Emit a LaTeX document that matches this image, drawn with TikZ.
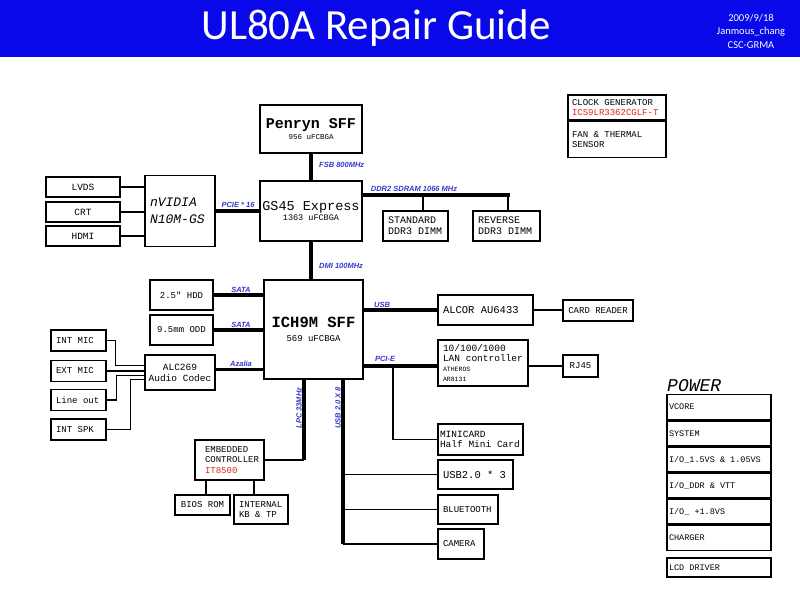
\documentclass[tikz,border=0pt]{standalone}
\usepackage{fontspec}
\setmainfont{Liberation Serif}
\newfontfamily\titlefont{Carlito}
\newfontfamily\boxfont{Liberation Mono}
\newfontfamily\lblfont{Liberation Sans}
\usetikzlibrary{positioning}
\definecolor{hdrblue}{RGB}{8,8,232}
\definecolor{lblblue}{RGB}{55,55,205}
\definecolor{chipred}{RGB}{220,35,35}
\newcommand{\mono}[2]{\boxfont\fontsize{#1}{#2}\selectfont\spaceskip=0.6em\xspaceskip=0.6em\relax}
\tikzset{%
  % Specifications for style of blocks and links:
        box/.style = {draw=black, line width=1.5pt, inner sep=0pt,
                      align=center, font={\mono{9}{10.5}}},
       lbox/.style = {box, align=flush left, inner xsep=5pt, text width=#1pt,
                      execute at begin node={\spaceskip=0.6em\xspaceskip=0.6em\relax}},
    boxsize/.style 2 args = {minimum width=#1pt, minimum height=#2pt},
       wire/.style = {line width=1.3pt},
        bus/.style = {line width=3.3pt},
   buslabel/.style = {text=lblblue, inner sep=0pt,
                      font={\lblfont\bfseries\itshape\fontsize{7.5}{8}\selectfont}},
}
\begin{document}
\begin{tikzpicture}[x=1pt, y=-1pt]
  \useasboundingbox (0,0) rectangle (800,600);
  % Header
  \fill[hdrblue] (0,0) rectangle (800,57);
  \node[text=white, font={\titlefont\fontsize{43}{43}\selectfont}] (title) at (376,28) {UL80A Repair Guide};
  \node[text=white, align=center, font={\titlefont\fontsize{10.5}{13.5}\selectfont}] (author) at (751,31)
     {2009/9/18\\Janmous\_chang\\CSC-GRMA};
  % CPU, north bridge and graphics
  \node[box, boxsize={102}{48}] (penryn) at (311,129)
     {{\mono{15}{16}\bfseries Penryn SFF}\\[1pt]{\mono{7.5}{8}956 uFCBGA}};
  \node[box, boxsize={102}{60}] (gs45) at (311,211)
     {{\mono{13.5}{15}GS45 Express}\\{\mono{8.5}{9}1363 uFCBGA}};
  \node[lbox=60, boxsize={70}{71}, font={\mono{13}{17}\itshape}] (nvidia) at (180,211) {nVIDIA\\N10M-GS};
  \node[box, boxsize={74}{20}, font={\mono{9.5}{10}}] (lvds) at (83,187) {LVDS};
  \node[box, boxsize={74}{20}, font={\mono{9.5}{10}}] (crt)  at (83,212) {CRT};
  \node[box, boxsize={74}{20}, font={\mono{9.5}{10}}] (hdmi) at (83,236) {HDMI};
  \node[lbox=55, boxsize={65}{30}, font={\mono{10}{11}}] (std) at (415.5,226) {STANDARD\\DDR3 DIMM};
  \node[lbox=57, boxsize={67}{30}, font={\mono{10}{11}}] (rev) at (506.5,226) {REVERSE\\DDR3 DIMM};
  % South bridge and devices
  \node[box, boxsize={99}{99}] (ich) at (313.5,329.5)
     {{\mono{15.5}{17}\bfseries ICH9M SFF}\\[3pt]{\mono{9}{10}569 uFCBGA}};
  \node[box, boxsize={63}{30}] (hdd) at (181.5,295) {2.5" HDD};
  \node[box, boxsize={63}{30}] (odd) at (181.5,330) {9.5mm ODD};
  \node[box, boxsize={70}{35}, font={\mono{9.5}{11}}] (alc) at (180,372.5) {ALC269\\Audio Codec};
  \node[lbox=45, boxsize={55}{21}] (intmic)  at (78.5,340.5) {INT MIC};
  \node[lbox=45, boxsize={55}{21}] (extmic)  at (78.5,371)   {EXT MIC};
  \node[lbox=45, boxsize={55}{21}] (lineout) at (78.5,400)   {Line out};
  \node[lbox=45, boxsize={55}{21}] (intspk)  at (78.5,429.5) {INT SPK};
  \node[lbox=85, boxsize={95}{30}, font={\mono{10.5}{11}}] (alcor) at (485.5,310) {ALCOR AU6433};
  \node[box, boxsize={70}{21}] (card) at (598,310.5) {CARD READER};
  \node[lbox=80, boxsize={90}{46}, font={\mono{9.5}{10}}] (lan) at (483,363)
     {10/100/1000\\LAN controller\\{\mono{6.5}{9}ATHEROS}\\{\mono{6.5}{9}AR8131}};
  \node[box, boxsize={35}{22}] (rj45) at (580.5,366) {RJ45};
  \node[lbox=81, boxsize={85}{31}, inner xsep=2pt, font={\mono{9.5}{10.5}}] (minicard) at (480.5,439.5)
     {MINICARD\\\mbox{Half Mini Card}};
  \node[lbox=65, boxsize={75}{29}, font={\mono{10.5}{11}}] (usb3) at (475.5,474.5) {USB2.0 * 3};
  \node[lbox=50, boxsize={60}{29}] (bt)  at (468,509.5) {BLUETOOTH};
  \node[lbox=36, boxsize={46}{30}] (cam) at (461,544)   {CAMERA};
  \node[lbox=49, boxsize={69}{40}, inner xsep=10pt] (ec) at (229.5,460)
     {EMBEDDED\\CONTROLLER\\\textcolor{chipred}{IT8500}};
  \node[box, boxsize={55}{20}] (bios) at (202.5,505) {BIOS ROM};
  \node[lbox=44, boxsize={54}{29}] (kbtp) at (261,509.5) {INTERNAL\\KB \& TP};
  % Clock and power
  \node[lbox=90, boxsize={98}{25}, inner xsep=4pt] (clk) at (617,107.5)
     {CLOCK GENERATOR\\\textcolor{chipred}{ICS9LR3362CGLF-T}};
  \node[lbox=90, boxsize={98}{36}, inner xsep=4pt, below=0pt of clk] (fan) {FAN \& THERMAL\\SENSOR};
  \node[anchor=base west, inner sep=0pt, font={\mono{18}{18}\itshape}] (powerlbl) at (667,391) {POWER};
  \node[lbox=100, boxsize={104}{24.7}, inner xsep=2pt, font={\mono{8.5}{9}}] (vcore) at (719,407) {VCORE};
  \node[lbox=100, boxsize={104}{24.7}, inner xsep=2pt, font={\mono{8.5}{9}}, below=0pt of vcore] (system) {SYSTEM};
  \node[lbox=100, boxsize={104}{24.7}, inner xsep=2pt, font={\mono{8.5}{9}}, below=0pt of system] (iosv) {I/O\_1.5VS \& 1.05VS};
  \node[lbox=100, boxsize={104}{24.7}, inner xsep=2pt, font={\mono{8.5}{9}}, below=0pt of iosv] (ioddr) {I/O\_DDR \& VTT};
  \node[lbox=100, boxsize={104}{24.7}, inner xsep=2pt, font={\mono{8.5}{9}}, below=0pt of ioddr] (ioeight) {I/O\_ +1.8VS};
  \node[lbox=100, boxsize={104}{24.7}, inner xsep=2pt, font={\mono{8.5}{9}}, below=0pt of ioeight] (charger) {CHARGER};
  \node[lbox=100, boxsize={104}{19}, inner xsep=2pt, font={\mono{8.5}{9}}, below=6pt of charger] (lcd) {LCD DRIVER};
  % Links
  \draw[wire] (lvds.east) -- (lvds.east -| nvidia.west);
  \draw[wire] (crt.east)  -- (crt.east -| nvidia.west);
  \draw[wire] (hdmi.east) -- (hdmi.east -| nvidia.west);
  \draw[bus]  (nvidia.east) -- (nvidia.east -| gs45.west);
  \draw[bus]  (penryn.south) -- (gs45.north);
  \coordinate (ddrend) at (510,195);
  \coordinate (stdtap) at (423,195);
  \coordinate (revtap) at (508,195);
  \draw[bus]  (gs45.east |- ddrend) -- (ddrend);
  \draw[wire] (stdtap) -- (stdtap |- std.north);
  \draw[wire] (revtap) -- (revtap |- rev.north);
  \draw[bus]  (gs45.south) -- (gs45.south |- ich.north);
  \draw[bus]  (hdd.east) -- (hdd.east -| ich.west);
  \draw[bus]  (odd.east) -- (odd.east -| ich.west);
  \draw[bus]  ([yshift=3pt]alc.east) -- ([yshift=3pt]alc.east -| ich.west);
  \draw[wire] (intmic.east) -- ++(9,0) |- ([yshift=7pt]alc.west);
  \draw[wire] (extmic.east) -- (extmic.east -| alc.west);
  \draw[wire] (lineout.east) -- ++(10,0) |- ([yshift=-3pt]alc.west);
  \draw[wire] (intspk.east) -- ++(24,0) |- ([yshift=-7pt]alc.west);
  \draw[bus]  (ich.east |- alcor.west) -- (alcor.west);
  \draw[wire] (alcor.east) -- (alcor.east -| card.west);
  \coordinate (pcie) at (393,366);
  \draw[bus]  (ich.east |- pcie) -- (pcie -| lan.west);
  \draw[wire] (lan.east |- pcie) -- (rj45.west);
  \draw[wire] (pcie) |- (minicard.west);
  \coordinate (usbend) at (343,544);
  \draw[bus]  (ich.south -| usbend) -- (usbend);
  \draw[wire] (usbend |- usb3.west) -- (usb3.west);
  \draw[wire] (usbend |- bt.west) -- (bt.west);
  \draw[wire] (usbend) -- (cam.west);
  \coordinate (lpcend) at (304,460);
  \draw[bus]  (ich.south -| lpcend) -- (lpcend);
  \draw[wire] (lpcend) -- (ec.east);
  \draw[wire] ([xshift=3.5pt]bios.north) -- ([xshift=3.5pt]bios.north |- ec.south);
  \draw[wire] ([xshift=-7pt]kbtp.north) -- ([xshift=-7pt]kbtp.north |- ec.south);
  % Link labels
  \node[buslabel, anchor=west] (fsblbl) at (319,165) {FSB 800MHz};
  \node[buslabel] (pcielbl) at (238,205) {PCIE * 16};
  \node[buslabel] (ddrlbl)  at (414,189) {DDR2 SDRAM 1066 MHz};
  \node[buslabel, anchor=west] (dmilbl) at (319,266) {DMI 100MHz};
  \node[buslabel] (satalbl)  at (241,290) {SATA};
  \node[buslabel] (satalblb) at (241,325) {SATA};
  \node[buslabel] (azalbl)   at (241,364) {Azalia};
  \node[buslabel] (usblbl)   at (382,305) {USB};
  \node[buslabel] (pcielblb) at (385,359) {PCI-E};
  \node[buslabel, rotate=90] (lpclbl)  at (299,408) {LPC 33MHz};
  \node[buslabel, rotate=90] (usb8lbl) at (338,408) {USB 2.0 X 8};
\end{tikzpicture}
\end{document}
